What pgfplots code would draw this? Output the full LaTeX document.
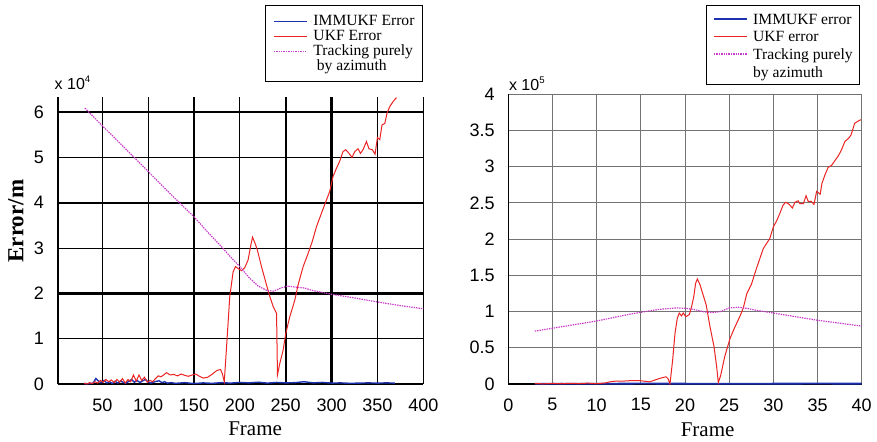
\documentclass[border=0pt]{standalone}
\usepackage{fontspec}
\setmainfont{Liberation Serif}
\setsansfont{Liberation Sans}
\usepackage{pgfplots}
\pgfplotsset{compat=1.18}
\definecolor{immblue}{RGB}{30,50,175}
\definecolor{ukfred}{RGB}{235,35,35}
\definecolor{azmag}{RGB}{200,60,200}
\pgfplotsset{
 common/.style={
  scale only axis,
  anchor=south west,
  axis x line=bottom, axis y line=left,
  tick style={draw=none},
  ticklabel style={font=\sffamily\fontsize{9}{10}\selectfont},
  xticklabel style={yshift=-1.6pt},
  yticklabel style={xshift=-1.2pt},
  /pgf/number format/assume math mode=true,
  grid=major,
  legend cell align=left,
  legend image code/.code={\draw[##1] (0pt,0pt) -- (16.6pt,0pt);},
  label style={font=\rmfamily\fontsize{10.5}{12}\selectfont},
  ytick scale label code/.code={x 10\raisebox{3.3pt}{\fontsize{4.8}{5}\selectfont ##1}},
 }
}
\begin{document}
\begin{tikzpicture}
\path[use as bounding box] (0,0) rectangle (438.5pt,220.5pt);
% ---------------- left axis
\begin{axis}[common,
  at={(28.85pt,28.5pt)}, width=182.8pt, height=143.65pt,
  xmin=1.4, xmax=400, ymin=0, ymax=63400,
  xtick={50,100,...,400}, ytick={0,10000,...,60000},
  scaled y ticks=base 10:-4,
  every y tick scale label/.style={at={(rel axis cs:0,1)}, anchor=base west, inner sep=0pt, yshift=3.85pt, xshift=-0.5pt, font=\sffamily\fontsize{8}{9}\selectfont},
  axis line style={-, black, line width=0.9pt},
  major grid style={black, line width=0.55pt},
  extra x ticks={150,250,300}, extra x tick labels={},
  extra y ticks={20000,40000,60000}, extra y tick labels={},
  extra tick style={grid=major, major grid style={black, line width=1.15pt}, tick style={draw=none}},
  xlabel={Frame},
  xlabel style={at={(axis description cs:0.54,-0.1775)}, anchor=base},
  ylabel={Error/m},
  ylabel style={at={(axis description cs:-0.114,0.567)}, anchor=center, font=\rmfamily\bfseries\fontsize{11.5}{13}\selectfont},
  legend style={at={(axis description cs:0.567,1.319)}, anchor=north west,
    inner xsep=3.85pt, inner ysep=4.1pt, column sep=2.85pt, row sep=0pt,
    draw=black, line width=0.5pt, font=\rmfamily\fontsize{7.8}{9}\selectfont,
    nodes={inner sep=0pt, text height=6pt, text depth=1.5pt}},
]
\addplot[immblue, line width=0.7pt] coordinates {
(30,100) (35,50) (40,200) (43,1200) (46,600) (49,300) (52,800) (55,200) (58,500) (61,100)
(64,600) (67,200) (70,700) (73,300) (76,200) (79,600) (82,1000) (85,400) (88,800) (91,300)
(94,700) (97,1000) (100,500) (103,200) (106,400) (109,600) (112,700) (115,300) (118,500) (121,200)
(125,300) (130,150) (140,300) (150,100) (160,250) (170,150) (180,300) (190,200) (200,350) (210,250)
(220,400) (230,200) (240,350) (250,250) (260,300) (270,500) (280,250) (290,350) (300,200) (310,250)
(320,150) (330,200) (340,250) (350,200) (360,250) (369,200)};
\addlegendentry{IMMUKF Error}
\addplot[ukfred, line width=0.5pt] coordinates {
(30,200) (33,0) (36,300) (39,100) (42,500) (45,200) (48,800) (51,400) (54,1000) (57,500)
(60,900) (63,300) (66,1000) (69,400) (72,1200) (75,200) (78,1000) (81,500) (84,2000) (87,600)
(90,2000) (93,800) (96,1500) (99,400) (102,800) (105,500) (108,1200) (111,1800) (114,1600) (117,2000)
(120,2500) (124,2000) (128,2100) (132,1800) (136,2200) (140,1900) (144,1700) (148,2000) (152,2200) (156,1700)
(160,1300) (165,1500) (170,2200) (175,3000) (179,3200) (181,2200) (183,500) (185.5,8200) (189,19300) (192.7,24800)
(195.3,25900) (198,25500) (201.8,25000) (205.4,25700) (209,27400) (211.6,30300) (213.8,32400) (216.3,31200) (218.9,29700) (223.6,25900)
(229,21900) (232.7,19300) (236.3,17100) (240,15600) (241,2000) (243.6,4600) (247.2,7500) (250.1,11200) (254.5,14900) (259.9,18500)
(263.5,21900) (269,25900) (274.4,28800) (279,31500) (283.5,34700) (289,37700) (294.4,40600) (298,42500) (301.6,45800) (305.3,47600)
(308.9,49200) (312.5,51300) (315.5,51700) (319,50900) (322.3,50000) (325.3,51300) (328.9,51900) (331.5,50900) (334.3,51700) (338,53500)
(340.8,51900) (344.5,51700) (347.4,50700) (350,54400) (352.5,53900) (355,57200) (358,57500) (360.5,59800) (363.4,61200) (367,62300)
(370.7,63200)};
\addlegendentry{UKF Error}
\addplot[azmag, line width=0.6pt, dash pattern=on 0.7pt off 0.5pt] coordinates {
(31,60900) (50,57000) (75,52000) (100,46900) (125,41800) (150,36900) (165,33500) (180,30300) (190,28000) (200,25900)
(210,23500) (220,21600) (230,20600) (237,20500) (245,21200) (252,21600) (260,21400) (270,21200) (280,20600) (300,19800)
(325,19000) (350,18100) (375,17300) (400,16600)};
\addlegendentry{Tracking purely}
\addlegendimage{empty legend}
\addlegendentry{\rule{0pt}{7.2pt}\hspace{1.7pt}by azimuth}
\end{axis}
% ---------------- right axis
\begin{axis}[common,
  at={(254.15pt,28.5pt)}, width=176.7pt, height=144.85pt,
  xmin=0, xmax=40, ymin=0, ymax=400000,
  xtick={0,5,...,40}, ytick={0,50000,...,400000},
  scaled y ticks=base 10:-5,
  every y tick scale label/.style={at={(rel axis cs:0,1)}, anchor=base west, inner sep=0pt, yshift=2.15pt, xshift=1.35pt, font=\sffamily\fontsize{8}{9}\selectfont},
  axis line style={-, black, line width=0.7pt},
  major grid style={black!55, line width=0.5pt},
  xlabel={Frame},
  xlabel style={at={(axis description cs:0.564,-0.1795)}, anchor=base},
  legend style={at={(axis description cs:0.5594,1.308)}, anchor=north west,
    inner xsep=3.35pt, inner ysep=2.2pt, column sep=2.5pt, row sep=0pt,
    draw=black, line width=0.5pt, font=\rmfamily\fontsize{7.8}{9}\selectfont,
    nodes={inner sep=0pt, text height=7.2pt, text depth=1.6pt}},
]
\addplot[immblue, line width=0.9pt] coordinates {
(3,300) (6,500) (10,400) (15,600) (20,500) (25,400) (30,500) (35,600) (40,500)};
\addlegendentry{IMMUKF error}
\addplot[ukfred, line width=0.5pt] coordinates {
(3,500) (4,300) (5,800) (6,400) (7,1000) (8,600) (9,1200) (10,500) (11,1500) (11.5,3000)
(12,3800) (13,4000) (13.77,4600) (14.9,4600) (16.0,3000) (17.2,8000) (17.85,10000) (18.1,7000) (18.3,0) (18.6,33000)
(18.87,70000) (19.13,91000) (19.35,98000) (19.6,94000) (19.8,98000) (20.1,93000) (20.5,96000) (20.75,107000) (21.0,121000) (21.2,139000)
(21.4,145000) (21.7,137000) (22.0,125000) (22.4,109000) (22.83,79000) (23.28,52000) (23.58,24000) (23.77,2000) (24.04,12000) (24.5,38000)
(25.1,63000) (25.66,79000) (26.2,93000) (26.6,105000) (27.0,125000) (27.5,137000) (28.1,160000) (28.86,187000) (29.6,201000) (30.0,217000)
(30.4,226000) (30.75,236000) (31.1,247000) (31.4,251000) (31.8,248000) (32.15,243000) (32.45,251000) (32.8,253000) (33.0,249000) (33.4,249000)
(33.7,260000) (33.95,252000) (34.3,252000) (34.6,248000) (34.9,266000) (35.3,262000) (35.5,277000) (35.85,289000) (36.2,299000) (36.6,302000)
(37.0,309000) (37.35,315000) (37.7,323000) (38.1,335000) (38.5,339000) (38.8,344000) (39.2,360000) (39.6,363000) (39.9,365000)};
\addlegendentry{UKF error}
\addplot[azmag, line width=0.6pt, dash pattern=on 0.7pt off 0.5pt] coordinates {
(3,73000) (5,77000) (10,87000) (14,97000) (17,103000) (19,105000) (20,104500) (21,103000) (22,100000) (23,98500)
(24,100000) (25,105000) (26,106000) (27,104500) (28,102000) (30,98000) (35,88000) (40,80000)};
\addlegendentry{Tracking purely}
\addlegendimage{empty legend}
\addlegendentry{by azimuth}
\end{axis}
\end{tikzpicture}
\end{document}
